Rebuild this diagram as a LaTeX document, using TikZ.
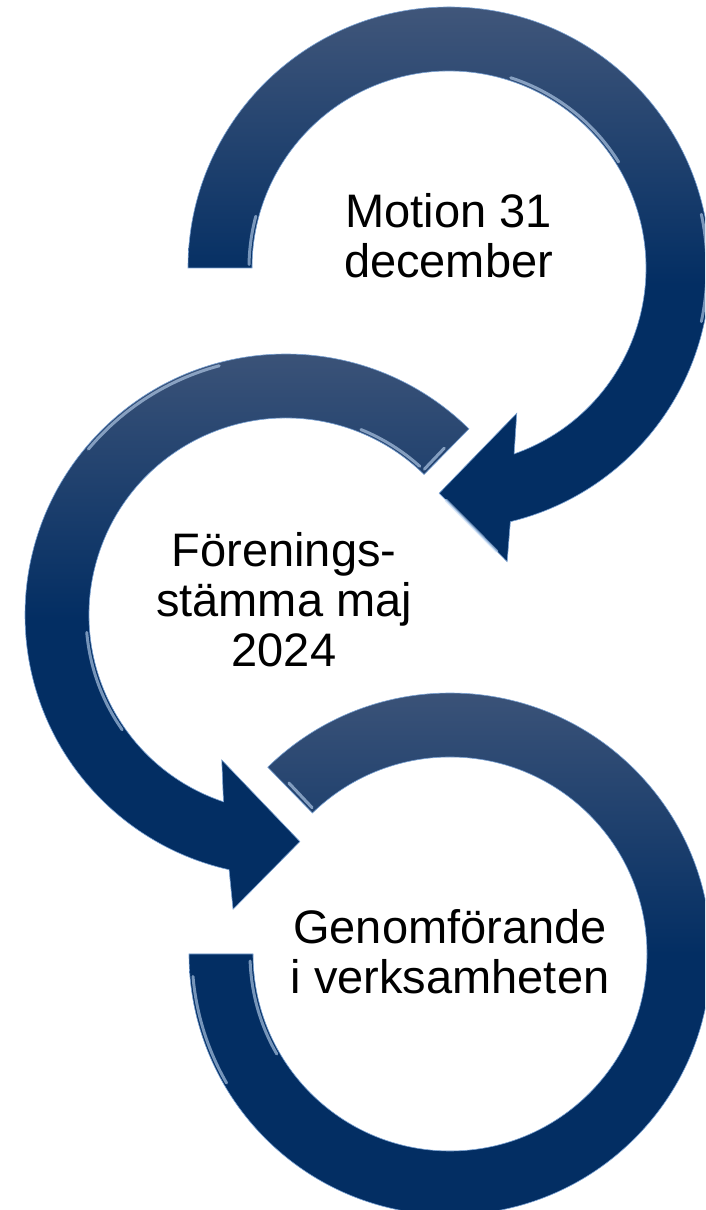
\documentclass[tikz,border=0pt]{standalone}
\usepackage{fontspec}
\setmainfont{Liberation Sans}
\usetikzlibrary{calc}
\definecolor{arLight}{RGB}{64,86,122}
\definecolor{arDark}{RGB}{3,46,99}
\definecolor{arEdge}{RGB}{120,160,210}
\definecolor{arShine}{RGB}{195,218,245}
\begin{document}
\begin{tikzpicture}[x=1pt,y=1pt,
  arrowshape/.style={top color=arLight, bottom color=arDark, middle color=arDark, draw=arEdge, line width=0.6pt, line join=miter},
  hilite/.style={draw=arShine, line width=3pt, opacity=0.6, line cap=round},
  lbl/.style={font=\fontsize{47}{50}\selectfont, align=center, inner sep=0pt, text=black}]
\useasboundingbox (0,0) rectangle (705,1210);
\clip (0,0) rectangle (705,1210);
\coordinate (c1) at (449,942);
\coordinate (c2) at (286,595);
\coordinate (c3) at (450,256);
% arrow 1 (top)
\path[arrowshape] ($(c1)+(180:261)$) arc[start angle=180,end angle=-76.4,radius=261]
  -- ($(c1)+(-78.8:299.4)$) coordinate (h1b) -- ($(c1)+(-92.5:225.5)$) coordinate (h1t)
  -- ($(c1)+(-65:160.3)$) coordinate (h1a) -- ($(c1)+(-70.7:197)$)
  arc[start angle=-70.7,end angle=180,radius=197] -- cycle;
\draw[hilite] ($(c1)+(72:200)$) arc[start angle=72,end angle=32,radius=200];
\draw[hilite] ($(c1)+(165:200)$) arc[start angle=165,end angle=179,radius=200];
\draw[hilite] ($(c1)+(12:258)$) arc[start angle=12,end angle=-12,radius=258];
\draw[hilite] ($(h1t)!0.1!(h1b)$) -- ($(h1t)!0.85!(h1b)$);
% arrow 2 (middle)
\path[arrowshape] ($(c2)+(45.5:261)$) arc[start angle=45.5,end angle=257.4,radius=261]
  -- ($(c2)+(259.8:299)$) coordinate (h2b) -- ($(c2)+(273.5:227)$) coordinate (h2t)
  -- ($(c2)+(246.1:158.6)$) coordinate (h2a) -- ($(c2)+(251.5:197)$)
  arc[start angle=251.5,end angle=45.5,radius=197] -- cycle;
\draw[hilite] ($(c2)+(68:200)$) arc[start angle=68,end angle=48,radius=200];
\draw[hilite] ($(c2)+(105:258)$) arc[start angle=105,end angle=140,radius=258];
\draw[hilite] ($(c2)+(185:200)$) arc[start angle=185,end angle=215,radius=200];
\draw[hilite] ($(c2)+(46.5:201)$) -- ($(c2)+(46.5:230)$);
% arrow 3 (bottom)
\path[arrowshape] ($(c3)+(134.3:261)$) arc[start angle=134.3,end angle=-180,radius=261]
  -- ($(c3)+(-180:197)$) arc[start angle=-180,end angle=134.3,radius=197] -- cycle;
\draw[hilite] ($(c3)+(133.3:201)$) -- ($(c3)+(133.3:235)$);
\draw[hilite] ($(c3)+(-150:258)$) arc[start angle=-150,end angle=-175,radius=258];
\draw[hilite] ($(c3)+(-178:200)$) arc[start angle=-178,end angle=-150,radius=200];
% labels
\node[lbl] (t1) at (448.5,974) {Motion 31\\december};
\node[lbl] (t2) at (284,610) {Förenings-\\stämma maj\\2024};
\node[lbl] (t3) at (450,258) {Genomförande\\i verksamheten};
\end{tikzpicture}
\end{document}
